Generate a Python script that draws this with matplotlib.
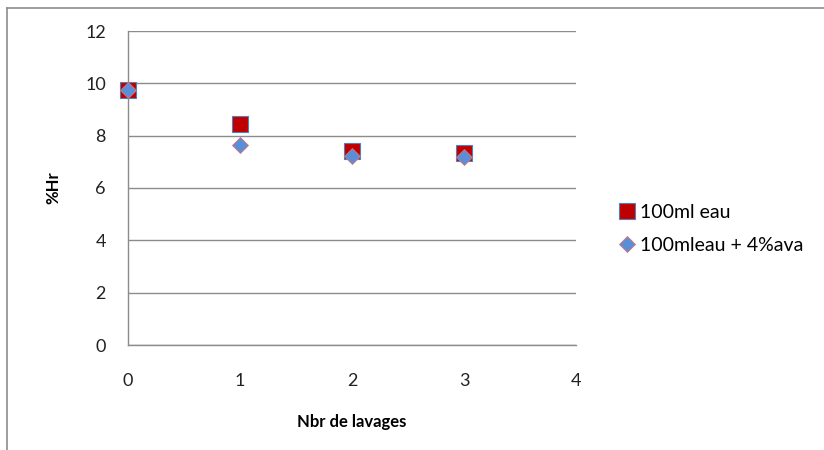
import matplotlib
matplotlib.use("Agg")
import matplotlib.pyplot as plt
from matplotlib.lines import Line2D

# Washing data: relative humidity (%Hr) after successive washes
washes = [0, 1, 2, 3]
hr_water = [9.75, 8.45, 7.42, 7.32]
hr_water_ava = [9.73, 7.63, 7.23, 7.20]
label_water = "100ml eau"
label_water_ava = "100mleau + 4%ava"
x_ticks = [0, 1, 2, 3, 4]
y_ticks = [0, 2, 4, 6, 8, 10, 12]

plt.rcParams['font.family'] = ['Lato', 'DejaVu Sans']

fig = plt.figure(figsize=(8.24, 4.5), dpi=100)
ax = fig.add_axes([128 / 824, 1 - 345 / 450, (576 - 128) / 824, (345 - 31) / 450])

ax.set_xlim(0, 4)
ax.set_ylim(0, 12)
ax.set_xticks(x_ticks)
ax.set_yticks(y_ticks)
ax.tick_params(axis='both', length=0, labelsize=13, colors='#222222')
ax.tick_params(axis='y', pad=16)
ax.tick_params(axis='x', pad=20)
ax.yaxis.grid(True, color='#8c8c8c', linewidth=1.0)
ax.set_axisbelow(True)
for side in ('top', 'right'):
    ax.spines[side].set_visible(False)
for side in ('left', 'bottom'):
    ax.spines[side].set_color('#8c8c8c')
    ax.spines[side].set_linewidth(1.0)

ax.plot(washes, hr_water, linestyle='none', marker='s', markersize=11,
        markerfacecolor='#C00000', markeredgecolor='#4F81BD',
        markeredgewidth=0.8, label=label_water, clip_on=False, zorder=3)
ax.plot(washes, hr_water_ava, linestyle='none', marker='D', markersize=8.5,
        markerfacecolor='#5A8FD8', markeredgecolor='#E07070',
        markeredgewidth=0.6, label=label_water_ava, clip_on=False, zorder=4)

ax.set_xlabel("Nbr de lavages", fontsize=12, fontweight='bold', labelpad=18)
ax.set_ylabel("%Hr", fontsize=12, fontweight='bold', labelpad=17)

ax.legend(loc='center left', bbox_to_anchor=(1.08, 0.37), frameon=False,
          fontsize=14, handletextpad=0.25, labelspacing=0.8,
          handlelength=0.8, borderaxespad=0)

# Outer chart frame
fig.add_artist(Line2D([7 / 824, 7 / 824], [0, 1 - 8 / 450], color='#8c8c8c',
                      linewidth=1.2, transform=fig.transFigure))
fig.add_artist(Line2D([7 / 824, 1], [1 - 8 / 450, 1 - 8 / 450], color='#8c8c8c',
                      linewidth=1.2, transform=fig.transFigure))

fig.savefig("out.png", dpi=100)
